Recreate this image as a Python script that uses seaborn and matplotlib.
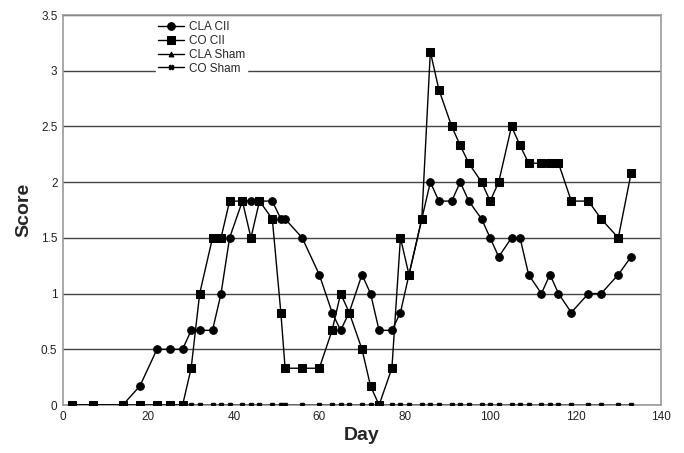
import matplotlib
matplotlib.use('Agg')
import matplotlib.pyplot as plt
import seaborn as sns
import numpy as np

# sampling days
days = [2, 7, 14, 18, 22, 25, 28, 30, 32, 35, 37, 39, 42, 44, 46, 49, 51, 52,
        56, 60, 63, 65, 67, 70, 72, 74, 77, 79, 81, 84, 86, 88, 91, 93, 95, 98,
        100, 102, 105, 107, 109, 112, 114, 116, 119, 123, 126, 130, 133]

cla_cii = [0, 0, 0, 0.17, 0.5, 0.5, 0.5, 0.67, 0.67, 0.67, 1.0, 1.5, 1.83, 1.83,
           1.83, 1.83, 1.67, 1.67, 1.5, 1.17, 0.83, 0.67, 0.83, 1.17, 1.0, 0.67,
           0.67, 0.83, 1.17, 1.67, 2.0, 1.83, 1.83, 2.0, 1.83, 1.67, 1.5, 1.33,
           1.5, 1.5, 1.17, 1.0, 1.17, 1.0, 0.83, 1.0, 1.0, 1.17, 1.33]

co_cii = [0, 0, 0, 0, 0, 0, 0, 0.33, 1.0, 1.5, 1.5, 1.83, 1.83, 1.5, 1.83, 1.67,
          0.83, 0.33, 0.33, 0.33, 0.67, 1.0, 0.83, 0.5, 0.17, 0, 0.33, 1.5, 1.17,
          1.67, 3.17, 2.83, 2.5, 2.33, 2.17, 2.0, 1.83, 2.0, 2.5, 2.33, 2.17,
          2.17, 2.17, 2.17, 1.83, 1.83, 1.67, 1.5, 2.08]

cla_sham = [0] * len(days)
co_sham = [0] * len(days)

sns.set_style('white')
plt.rcParams['font.family'] = ['Liberation Sans', 'DejaVu Sans']

fig, ax = plt.subplots(figsize=(6.84, 4.53), dpi=100)
fig.subplots_adjust(left=63/684, right=661/684, top=1-15/453, bottom=1-405/453)

sns.lineplot(x=days, y=cla_cii, marker='o', markersize=5.5, color='black',
             linewidth=1, markeredgecolor='black', label='CLA CII', ax=ax, zorder=3)
sns.lineplot(x=days, y=co_cii, marker='s', markersize=6, color='black',
             linewidth=1, markeredgecolor='black', label='CO CII', ax=ax, zorder=3)
sns.lineplot(x=days, y=cla_sham, marker='^', markersize=3.5, color='black',
             linewidth=1, markeredgecolor='black', label='CLA Sham', ax=ax, zorder=3)
sns.lineplot(x=days, y=co_sham, marker='X', markersize=3.5, color='black',
             linewidth=1, markeredgecolor='black', label='CO Sham', ax=ax, zorder=3)

ax.set_xlim(0, 140)
ax.set_ylim(0, 3.5)
ax.set_xticks(range(0, 141, 20))
ax.set_yticks([0, 0.5, 1, 1.5, 2, 2.5, 3, 3.5])
ax.set_yticklabels(['0', '0.5', '1', '1.5', '2', '2.5', '3', '3.5'])
ax.yaxis.grid(True, color='#444444', linewidth=1)
ax.set_axisbelow(True)
for s in ax.spines.values():
    s.set_color('#999999')
    s.set_linewidth(1.2)
ax.tick_params(axis='both', labelsize=8.5, length=0, pad=4, colors='#222222')

ax.set_xlabel('Day', fontsize=14, fontweight='bold', labelpad=3)
ax.set_ylabel('Score', fontsize=14, fontweight='bold', labelpad=6)

leg = ax.legend(loc='upper left', bbox_to_anchor=(0.155, 0.99), frameon=True,
                fontsize=8.5, handlelength=2.2, handletextpad=0.4,
                labelspacing=0.15, borderpad=0.2, borderaxespad=0)
leg.get_frame().set_edgecolor('white')
leg.get_frame().set_facecolor('white')
leg.get_frame().set_alpha(1)
leg.set_zorder(5)

fig.savefig('out.png', dpi=100)
